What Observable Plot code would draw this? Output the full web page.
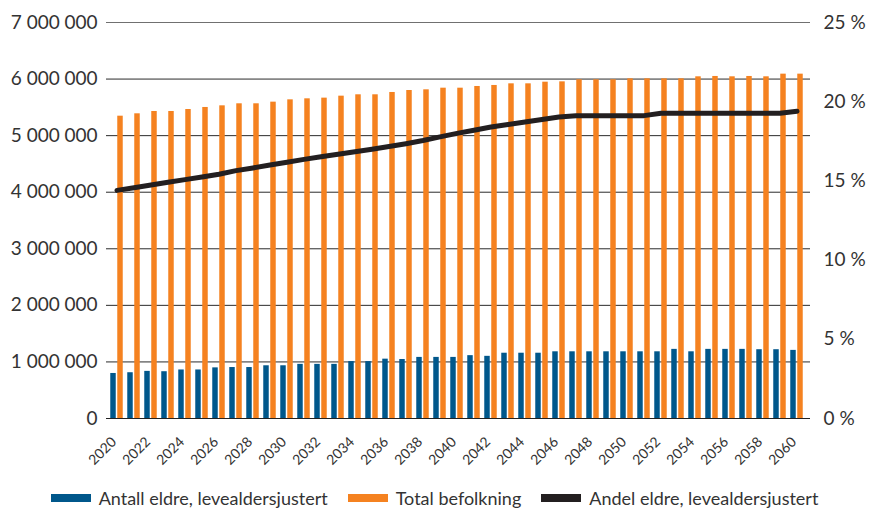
<!DOCTYPE html>
<html>
<head>
<meta charset="utf-8">
<script src="https://cdn.jsdelivr.net/npm/d3@7"></script>
<script src="https://cdn.jsdelivr.net/npm/@observablehq/plot@0.6"></script>
<style>
  html, body { margin: 0; padding: 0; background: #fff; }
  body { width: 869px; height: 510px; overflow: hidden; font-family: Lato, "Open Sans", sans-serif; color: #333; }
  #legend { display: flex; justify-content: center; align-items: center; margin-top: 17px; height: 22px; font-size: 18px; line-height: 22px; white-space: nowrap; }
  .item { display: flex; align-items: center; margin: 0 10px; }
  .sw { display: inline-block; width: 40px; height: 8px; margin-right: 8px; }
</style>
</head>
<body>
<div id="chart"></div>
<div id="legend"></div>
<script>
const years = [2020,2021,2022,2023,2024,2025,2026,2027,2028,2029,
               2030,2031,2032,2033,2034,2035,2036,2037,2038,2039,
               2040,2041,2042,2043,2044,2045,2046,2047,2048,2049,
               2050,2051,2052,2053,2054,2055,2056,2057,2058,2059,2060];
// Antall eldre, levealdersjustert (thousands)
const elderly = [796,809,833,827,858,858,895,901,901,932,
                 932,957,957,957,1006,1006,1049,1043,1080,1080,
                 1080,1111,1099,1154,1154,1154,1179,1179,1179,1179,
                 1179,1179,1179,1222,1179,1222,1222,1222,1216,1216,1204];
// Total befolkning (thousands)
const total = [5344,5386,5427,5427,5462,5498,5527,5563,5563,5592,
               5633,5651,5663,5698,5722,5722,5763,5798,5810,5839,
               5839,5869,5887,5916,5916,5945,5951,5987,5987,5987,
               6004,6004,6004,6004,6040,6046,6040,6046,6040,6087,6087];
// Andel eldre, levealdersjustert (%)
const share = [14.40,14.57,14.74,14.91,15.08,15.25,15.42,15.65,15.82,16.00,
               16.18,16.36,16.52,16.68,16.84,17.00,17.17,17.35,17.55,17.78,
               18.00,18.20,18.40,18.56,18.72,18.88,19.03,19.12,19.12,19.12,
               19.12,19.12,19.27,19.27,19.27,19.27,19.27,19.27,19.27,19.27,19.40];
const leftTicks = [0,1000000,2000000,3000000,4000000,5000000,6000000,7000000];
const rightTicks = [0,5,10,15,20,25];
const xTicks = [2020,2022,2024,2026,2028,2030,2032,2034,2036,2038,2040,
                2042,2044,2046,2048,2050,2052,2054,2056,2058,2060];
const legendItems = ["Antall eldre, levealdersjustert","Total befolkning","Andel eldre, levealdersjustert"];

const BLUE = "#00578b", ORANGE = "#f58220", BLACK = "#231f20";
const yMax = 7000000, pctMax = 25, k = yMax / pctMax;

const rows = years.map((y, i) => ({year: y, elderly: elderly[i]*1000, total: total[i]*1000, share: share[i]}));
const fmt = d => d3.format(",")(d).replace(/,/g, "\u2009\u2009");

const bw = 698 / 41;
const barW = 5.5, gap = 1.5;
const c = bw / 2;
const inL1 = c - gap/2 - barW, inR1 = bw - (c - gap/2);
const inL2 = c + gap/2, inR2 = bw - (c + gap/2 + barW);

const chart = Plot.plot({
  width: 869,
  height: 470,
  marginLeft: 106,
  marginRight: 59,
  marginTop: 22,
  marginBottom: 52,
  style: {fontFamily: "Lato, 'Open Sans', sans-serif", color: "#333", background: "#fff"},
  x: {type: "band", domain: years, range: [107.5, 805.5], paddingInner: 0, paddingOuter: 0, axis: null},
  y: {domain: [0, yMax], axis: null},
  marks: [
    Plot.ruleY(leftTicks.filter(d => d > 0 && d < yMax), {stroke: "#2b2b2b", strokeWidth: 1}),
    Plot.ruleY([yMax], {stroke: "#707070", strokeWidth: 1.2}),
    Plot.barY(rows, {x: "year", y: "elderly", fill: BLUE, insetLeft: inL1, insetRight: inR1}),
    Plot.barY(rows, {x: "year", y: "total", fill: ORANGE, insetLeft: inL2, insetRight: inR2}),
    Plot.ruleY([0], {stroke: "#222", strokeWidth: 1}),
    Plot.line(rows, {x: "year", y: d => d.share * k, stroke: BLACK, strokeWidth: 5, strokeLinejoin: "round"}),
    Plot.axisY(leftTicks, {anchor: "left", tickSize: 0, tickPadding: 9, tickFormat: fmt, label: null, fontSize: 19}),
    Plot.axisY(rightTicks.map(p => p * k), {anchor: "right", tickSize: 0, tickPadding: 13, tickFormat: d => Math.round(d / k) + " %", label: null, fontSize: 19}),
    Plot.axisX(xTicks, {tickSize: 0, tickPadding: 21, dx: -3, tickRotate: -45, label: null, tickFormat: d => String(d), fontSize: 14})
  ]
});
document.getElementById("chart").appendChild(chart);

const colors = [BLUE, ORANGE, BLACK];
const leg = document.getElementById("legend");
legendItems.forEach((t, i) => {
  const it = document.createElement("div");
  it.className = "item";
  const sw = document.createElement("span");
  sw.className = "sw";
  sw.style.background = colors[i];
  const tx = document.createElement("span");
  tx.textContent = t;
  it.appendChild(sw); it.appendChild(tx);
  leg.appendChild(it);
});
</script>
</body>
</html>
